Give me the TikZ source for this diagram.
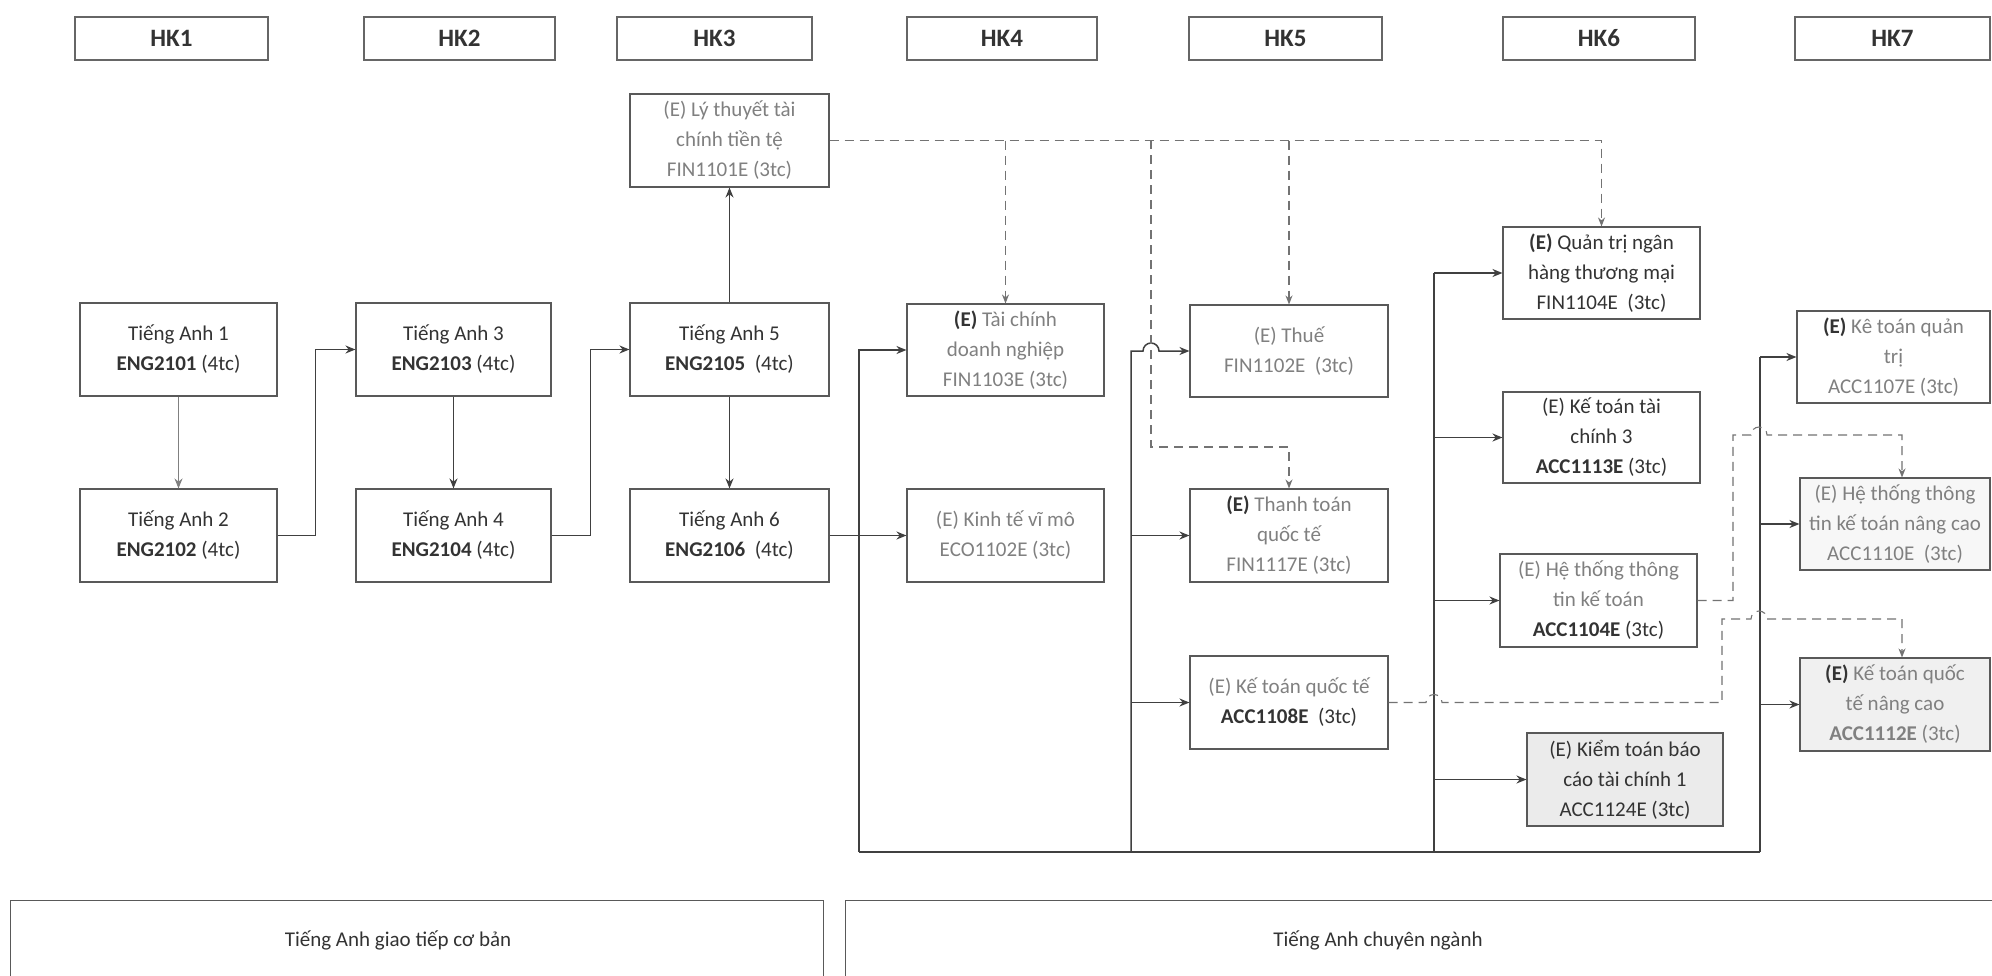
\documentclass[tikz,border=0pt]{standalone}
\usepackage{fontspec}
\setmainfont{Carlito}
\usetikzlibrary{arrows.meta,calc}
\definecolor{dk}{gray}{0.2}
\definecolor{fdc}{gray}{0.5}
\definecolor{lnc}{gray}{0.25}
\newcommand{\fdd}[1]{\textcolor{fdc}{#1}}
\begin{document}
\begin{tikzpicture}[x=1pt,y=-1pt,
  hk/.style={draw=black!60, line width=1.3pt, minimum height=43pt, minimum width=#1,
    font=\fontsize{25}{28}\selectfont\bfseries, text=dk},
  bx/.style 2 args={draw=black!65, line width=1.1pt, minimum width=#1, minimum height=#2,
    align=center, inner sep=1pt, font=\fontsize{21}{30}\selectfont, text=dk},
  ln/.style={draw=lnc, line width=1.5pt},
  ar/.style={ln, -{Stealth[length=10pt,width=8pt]}},
  dl/.style={draw=black!55, line width=1.1pt, dash pattern=on 9pt off 6pt},
  dar/.style={dl, -{Stealth[length=9pt,width=7pt]}},
]
\fill[white] (0,0) rectangle (1992,975);
\clip (0,0) rectangle (1992,975);
\useasboundingbox (0,0) rectangle (1992,975);

% headers
\node[hk=193pt] (hk1) at (171.5,38.5) {HK1};
\node[hk=191pt] (hk2) at (459.5,38.5) {HK2};
\node[hk=195pt] (hk3) at (714.5,38.5) {HK3};
\node[hk=190pt] (hk4) at (1002,38.5) {HK4};
\node[hk=193pt] (hk5) at (1285.5,38.5) {HK5};
\node[hk=192pt] (hk6) at (1599,38.5) {HK6};
\node[hk=195pt] (hk7) at (1892.5,38.5) {HK7};

% courses
\node[bx={199pt}{93pt}] (lt) at (729.5,140.5) {\fdd{(E) Lý thuyết tài}\\\fdd{chính tiền tệ}\\\fdd{FIN1101E (3tc)}};
\node[bx={197pt}{93pt}] (ta1) at (178.5,349.5) {Tiếng Anh 1\\\textbf{ENG2101} (4tc)};
\node[bx={197pt}{93pt}] (ta2) at (178.5,535.5) {Tiếng Anh 2\\\textbf{ENG2102} (4tc)};
\node[bx={195pt}{93pt}] (ta3) at (453.5,349.5) {Tiếng Anh 3\\\textbf{ENG2103} (4tc)};
\node[bx={195pt}{93pt}] (ta4) at (453.5,535.5) {Tiếng Anh 4\\\textbf{ENG2104} (4tc)};
\node[bx={199pt}{93pt}] (ta5) at (729.5,349.5) {Tiếng Anh 5\\\textbf{ENG2105}\ \ (4tc)};
\node[bx={199pt}{93pt}] (ta6) at (729.5,535.5) {Tiếng Anh 6\\\textbf{ENG2106}\ \ (4tc)};
\node[bx={197pt}{92pt}] (tcdn) at (1005.5,350) {\textbf{(E)} \fdd{Tài chính}\\\fdd{doanh nghiệp}\\\fdd{FIN1103E (3tc)}};
\node[bx={197pt}{93pt}] (eco) at (1005.5,535.5) {\fdd{(E) Kinh tế vĩ mô}\\\fdd{ECO1102E (3tc)}};
\node[bx={198pt}{92pt}] (thue) at (1289,351) {\fdd{(E) Thuế}\\\fdd{FIN1102E\ \ (3tc)}};
\node[bx={198pt}{93pt}] (ttqt) at (1289,535.5) {\textbf{(E)} \fdd{Thanh toán}\\\fdd{quốc tế}\\\fdd{FIN1117E (3tc)}};
\node[bx={198pt}{93pt}] (ktqt) at (1289,702.5) {\fdd{(E) Kế toán quốc tế}\\\textbf{ACC1108E}\ \ (3tc)};
\node[bx={197pt}{92pt}] (qtnh) at (1601.5,273) {\textbf{(E)} Quản trị ngân\\hàng thương mại\\FIN1104E\ \ (3tc)};
\node[bx={197pt}{91pt}] (kttc) at (1601.5,437.5) {(E) Kế toán tài\\chính 3\\\textbf{ACC1113E} (3tc)};
\node[bx={197pt}{93pt}] (httt) at (1598.5,600.5) {\fdd{(E) Hệ thống thông}\\\fdd{tin kế toán}\\\textbf{ACC1104E} (3tc)};
\node[bx={196pt}{93pt}, fill=black!8] (ktbc) at (1625,779.5) {(E) Kiểm toán báo\\cáo tài chính 1\\ACC1124E (3tc)};
\node[bx={193pt}{92pt}] (ktqtri) at (1893.5,357) {\textbf{(E)} \fdd{Kê toán quản}\\\fdd{trị}\\\fdd{ACC1107E (3tc)}};
\node[bx={190pt}{92pt}, fill=black!3] (htnc) at (1895,524) {\fdd{(E) Hệ thống thông}\\\fdd{tin kế toán nâng cao}\\\fdd{ACC1110E\ \ (3tc)}};
\node[bx={190pt}{93pt}, fill=black!6] (ktqtnc) at (1895,704.5) {\textbf{(E)} \fdd{Kế toán quốc}\\\fdd{tế nâng cao}\\\fdd{\textbf{ACC1112E} (3tc)}};

% bottom groups
\node[draw=black!65, line width=1.1pt, minimum width=813pt, minimum height=140pt, anchor=north west] (gbox) at (10,900) {};
\node[font=\fontsize{21}{24}\selectfont, text=dk] (gtxt) at (398,940) {Tiếng Anh giao tiếp cơ bản};
\node[draw=black!65, line width=1.1pt, minimum width=1200pt, minimum height=140pt, anchor=north west] (cbox) at (845,900) {};
\node[font=\fontsize{21}{24}\selectfont, text=dk] (ctxt) at (1378,940) {Tiếng Anh chuyên ngành};

% English chain
\draw[ar, draw=black!50, line width=1pt] (ta1) -- (ta2);
\draw[ar] (ta2.east) -- ++(38,0) |- (ta3.west);
\draw[ar] (ta3) -- (ta4);
\draw[ar] (ta4.east) -- ++(39,0) |- (ta5.west);
\draw[ar] (ta5) -- (lt);
\draw[ar] (ta5) -- (ta6);
\draw[ar] (ta6) -- (eco);

% bus
\coordinate (b1) at (859,852);
\coordinate (b2) at (1131,852);
\coordinate (b3) at (1434,852);
\coordinate (b4) at (1760,852);
\draw[ln] (b1) -- (b4);
\draw[ar] (b1) |- (tcdn.west);
\draw[ar] (b2) -- (b2 |- thue.west) -- ($(b2 |- thue.west)+(12,0)$) arc(180:360:8) -- (thue.west);
\draw[ar] (b2 |- ttqt.west) -- (ttqt.west);
\draw[ar] (b2 |- ktqt.west) -- (ktqt.west);
\draw[ln] (b3) -- (b3 |- qtnh.west);
\draw[ar] (b3 |- qtnh.west) -- (qtnh.west);
\draw[ar] (b3 |- kttc.west) -- (kttc.west);
\draw[ar] (b3 |- httt.west) -- (httt.west);
\draw[ar] (b3 |- ktbc.west) -- (ktbc.west);
\draw[ln] (b4) -- (b4 |- ktqtri.west);
\draw[ar] (b4 |- ktqtri.west) -- (ktqtri.west);
\draw[ar] (b4 |- htnc.west) -- (htnc.west);
\draw[ar] (b4 |- ktqtnc.west) -- (ktqtnc.west);

% dashed prerequisites
\draw[dar] (lt.east) -| (qtnh.north);
\draw[dar] (tcdn.north |- lt.east) -- (tcdn.north);
\draw[dar] (thue.north |- lt.east) -- (thue.north);
\coordinate (dv) at (1151,140);
\coordinate (dt) at (1151,447);
\draw[dar] (dv) -- (dt) -| (ttqt.north);
\coordinate (h1) at (1733,435);
\coordinate (h2) at (1902,435);
\draw[dar] (httt.east) -| (h1) -- ($(h1)+(18,0)$) arc(180:360:8) -- (h2) -- (h2 |- htnc.north);
\coordinate (k1) at (1722,619);
\coordinate (k2) at (1902,619);
\draw[dar] (ktqt.east) -- ($(ktqt.east -| b3)+(-8,0)$) arc(180:360:8) -- (k1 |- ktqt.east) -- (k1) -- ($(k1)+(29,0)$) arc(180:360:8) -- (k2) -- (k2 |- ktqtnc.north);
\end{tikzpicture}
\end{document}
